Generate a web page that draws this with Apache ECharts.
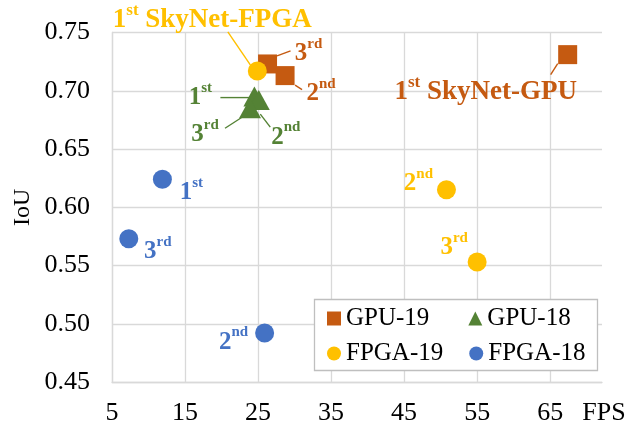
<!DOCTYPE html>
<html>
<head>
<meta charset="utf-8">
<script src="https://cdn.jsdelivr.net/npm/echarts@6/dist/echarts.min.js"></script>
<style>
html, body { margin: 0; padding: 0; background: #fff; }
#chart { width: 639px; height: 425px; }
</style>
</head>
<body>
<div id="chart"></div>
<script>
// values (FPS, IoU), rank order 1st / 2nd / 3rd
var ranks = ['1st', '2nd', '3rd'];
var gpu19Fps = [67.4, 28.7, 26.3];
var gpu19IoU = [0.731, 0.713, 0.723];
var gpu18Fps = [24.5, 25.1, 23.9];
var gpu18IoU = [0.695, 0.692, 0.685];
var fpga19Fps = [24.9, 50.8, 55.0];
var fpga19IoU = [0.717, 0.615, 0.553];
var fpga18Fps = [11.9, 25.9, 7.3];
var fpga18IoU = [0.624, 0.492, 0.573];
var seriesNames = ['GPU-19', 'GPU-18', 'FPGA-19', 'FPGA-18'];
var winnerTags = { 'GPU-19': ' SkyNet-GPU', 'FPGA-19': ' SkyNet-FPGA' };

var FONT = "'Liberation Serif', 'Times New Roman', serif";
var colors = { 'GPU-19': '#C55A11', 'GPU-18': '#548235', 'FPGA-19': '#FFC000', 'FPGA-18': '#4472C4' };
var symbols = { 'GPU-19': 'rect', 'GPU-18': 'triangle', 'FPGA-19': 'circle', 'FPGA-18': 'circle' };
var sizes = { 'GPU-19': 19, 'GPU-18': [22, 20], 'FPGA-19': 19, 'FPGA-18': 19 };
// label centre offset from its point, px
var labelSpots = {
    'GPU-19':  [[-82, 37], [36, 18], [41, -10]],
    'GPU-18':  [[-54, 1], [27, 37], [-45, 26]],
    'FPGA-19': [[-45, -51], [-28, -6], [-23, -14]],
    'FPGA-18': [[29, 13], [-31, 9], [29, 13]]
};
// leader lines: series, rank index, start and end offsets from the point, px
var leaders = [
    ['GPU-19', 0, -10, 9, -17, 20],
    ['GPU-19', 1, 10, 9.5, 17, 14],
    ['GPU-19', 2, 9.5, -8, 23, -13],
    ['FPGA-19', 0, -7, -6, -29.5, -39],
    ['GPU-18', 0, -5, 1, -34, 1],
    ['GPU-18', 1, 1.5, 14, 11.5, 27],
    ['GPU-18', 2, -8, 9, -25, 20]
];
var xs = { 'GPU-19': gpu19Fps, 'GPU-18': gpu18Fps, 'FPGA-19': fpga19Fps, 'FPGA-18': fpga18Fps };
var ys = { 'GPU-19': gpu19IoU, 'GPU-18': gpu18IoU, 'FPGA-19': fpga19IoU, 'FPGA-18': fpga18IoU };

function rankText(name, i) {
    var r = ranks[i];
    if (i === 0 && winnerTags[name]) {
        return '{D|' + r.charAt(0) + '}{S|' + r.slice(1) + '}{T|' + winnerTags[name] + '}';
    }
    return '{d|' + r.charAt(0) + '}{s|' + r.slice(1) + '}';
}

function buildSeries(name) {
    var c = colors[name];
    var data = [];
    for (var i = 0; i < ranks.length; i++) {
        data.push({
            value: [xs[name][i], ys[name][i]],
            label: { offset: labelSpots[name][i], formatter: rankText(name, i) }
        });
    }
    var base = { fontWeight: 'bold', color: c, fontFamily: FONT };
    return {
        name: name,
        type: 'scatter',
        symbol: symbols[name],
        symbolSize: sizes[name],
        itemStyle: { color: c, opacity: 1 },
        data: data,
        label: {
            show: true,
            position: 'inside',
            color: c,
            fontFamily: FONT,
            rich: {
                d: Object.assign({ fontSize: 25, lineHeight: 34 }, base),
                s: Object.assign({ fontSize: 15, lineHeight: 15, verticalAlign: 'top' }, base),
                D: Object.assign({ fontSize: 27, lineHeight: 36 }, base),
                S: Object.assign({ fontSize: 17, lineHeight: 17, verticalAlign: 'top' }, base),
                T: Object.assign({ fontSize: 27, lineHeight: 36 }, base)
            }
        },
        emphasis: { disabled: true }
    };
}

// one legend row per component; the gap keeps the second column at the same x
function legendRow(names, top, gap) {
    return {
        data: names,
        left: 327,
        top: top,
        orient: 'horizontal',
        selectedMode: false,
        itemWidth: 14,
        itemHeight: 14,
        itemGap: gap,
        padding: 0,
        textStyle: { fontFamily: FONT, fontSize: 25, color: '#000' }
    };
}

var chart = echarts.init(document.getElementById('chart'));
chart.setOption({
    animation: false,
    backgroundColor: '#fff',
    grid: { left: 112, right: 37, top: 32.5, bottom: 43, outerBoundsMode: 'none', containLabel: false },
    xAxis: {
        type: 'value',
        min: 5,
        max: 72.1,
        interval: 10,
        name: 'FPS',
        nameLocation: 'end',
        nameGap: 2,
        nameTextStyle: { fontFamily: FONT, fontSize: 26, color: '#000', align: 'center', verticalAlign: 'top', padding: [18, 0, 0, 0] },
        axisLine: { show: true, lineStyle: { color: '#d9d9d9', width: 1.3 } },
        axisTick: { show: false },
        axisLabel: { fontFamily: FONT, fontSize: 26, color: '#000', margin: 18, showMaxLabel: false },
        splitLine: { show: true, showMaxLine: false, lineStyle: { color: '#d9d9d9', width: 1.3 } }
    },
    yAxis: {
        type: 'value',
        min: 0.45,
        max: 0.75,
        interval: 0.05,
        name: 'IoU',
        nameLocation: 'middle',
        nameGap: 77,
        nameMoveOverlap: false,
        nameTextStyle: { fontFamily: FONT, fontSize: 24, color: '#000' },
        axisLine: { show: true, lineStyle: { color: '#d9d9d9', width: 1.3 } },
        axisTick: { show: false },
        axisLabel: {
            fontFamily: FONT, fontSize: 26, color: '#000', margin: 22,
            formatter: function (v) { return v.toFixed(2); }
        },
        splitLine: { show: true, lineStyle: { color: '#d9d9d9', width: 1.3 } }
    },
    legend: [
        legendRow(['GPU-19', 'GPU-18'], 306, 39),
        legendRow(['FPGA-19', 'FPGA-18'], 341, 26)
    ],
    series: seriesNames.map(buildSeries)
});

// legend frame and leader lines, the lines placed through the chart's own scales
var extras = [{
    type: 'rect',
    z: 0,
    silent: true,
    shape: { x: 314.5, y: 299.5, width: 283, height: 71 },
    style: { fill: '#fff', stroke: '#bfbfbf', lineWidth: 1.3 }
}];
leaders.forEach(function (l) {
    var p = chart.convertToPixel({ gridIndex: 0 }, [xs[l[0]][l[1]], ys[l[0]][l[1]]]);
    extras.push({
        type: 'line',
        z: 1,
        silent: true,
        shape: { x1: p[0] + l[2], y1: p[1] + l[3], x2: p[0] + l[4], y2: p[1] + l[5] },
        style: { stroke: colors[l[0]], lineWidth: 1.4 }
    });
});
chart.setOption({ graphic: extras });
</script>
</body>
</html>
